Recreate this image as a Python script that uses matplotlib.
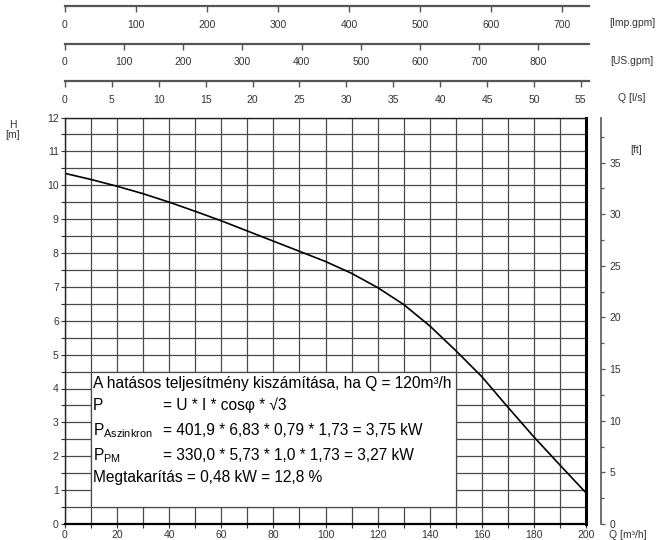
import matplotlib
matplotlib.use('Agg')
import matplotlib.pyplot as plt
from matplotlib.ticker import MultipleLocator
from matplotlib.patches import Rectangle

plt.rcParams['font.family'] = ['Liberation Sans', 'DejaVu Sans']
plt.rcParams['mathtext.fontset'] = 'custom'
plt.rcParams['mathtext.rm'] = 'Liberation Sans'

# ---- data ----
q_m3h = [0, 10, 20, 30, 40, 50, 60, 70, 80, 90, 100, 110, 120, 130, 140, 150, 160, 170, 180, 190, 200]
h_m = [10.35, 10.17, 9.97, 9.75, 9.50, 9.23, 8.95, 8.65, 8.35, 8.05, 7.75, 7.40, 6.98, 6.48, 5.85,
       5.12, 4.35, 3.45, 2.57, 1.74, 0.92]

box_lines_left = ["A hatásos teljesítmény kiszámítása, ha Q = 120m³/h",
                  "P",
                  r"P$_\mathregular{Aszinkron}$",
                  r"P$_\mathregular{PM}$",
                  "Megtakarítás = 0,48 kW = 12,8 %"]
box_lines_right = ["", "= U * I * cosφ * √3",
                   "= 401,9 * 6,83 * 0,79 * 1,73 = 3,75 kW",
                   "= 330,0 * 5,73 * 1,0 * 1,73 = 3,27 kW", ""]

# top unit scales: (label, factor per m3/h, tick step, max tick)
top_scales = [("[Imp.gpm]", 1000 / 4.54609 / 60, 100, 700),
              ("[US.gpm]", 1000 / 3.785411784 / 60, 100, 800),
              ("Q [l/s]", 1 / 3.6, 5, 55)]
M_TO_FT = 3.28084

W, H = 657, 540
fig = plt.figure(figsize=(W / 100, H / 100), dpi=100)

L, R, T, B = 65, 586, 117.5, 524
ax = fig.add_axes([L / W, 1 - B / H, (R - L) / W, (B - T) / H])
ax.set_xlim(0, 200)
ax.set_ylim(0, 12)
ax.xaxis.set_major_locator(MultipleLocator(20))
ax.xaxis.set_minor_locator(MultipleLocator(10))
ax.yaxis.set_major_locator(MultipleLocator(1))
ax.yaxis.set_minor_locator(MultipleLocator(0.5))
ax.grid(which='both', color='#4a4a4a', lw=0.9)
ax.set_axisbelow(True)
ax.tick_params(which='both', direction='out', length=3, width=0.8, color='#333',
               labelsize=7.5, labelcolor='#333', pad=1.5, top=False, right=False)
for s in ['left', 'top']:
    ax.spines[s].set_linewidth(1.0)
    ax.spines[s].set_color('#222')
ax.spines['right'].set_linewidth(2.2)
ax.spines['right'].set_color('black')
ax.spines['bottom'].set_linewidth(1.6)
ax.spines['bottom'].set_color('black')

# white info box
ax.add_patch(Rectangle((10, 0.5), 140, 4.0, facecolor='white', edgecolor='#4a4a4a',
                       lw=0.9, zorder=1.5))
ys = [4.02, 3.36, 2.63, 1.89, 1.23]
for y, tl, tr in zip(ys, box_lines_left, box_lines_right):
    ax.text(10.8, y, tl, fontsize=11.2, va='baseline', ha='left', zorder=3)
    if tr:
        ax.text(37.8, y, tr, fontsize=11.2, va='baseline', ha='left', zorder=3)

ax.plot(q_m3h, h_m, color='black', lw=1.2, zorder=2.5)

# right [ft] axis
axf = ax.twinx()
axf.set_ylim(0, 12 * M_TO_FT)
for s in ['left', 'top', 'bottom']:
    axf.spines[s].set_visible(False)
axf.spines['right'].set_position(('outward', 11))
axf.spines['right'].set_color('#555')
axf.spines['right'].set_linewidth(1.2)
axf.yaxis.set_major_locator(MultipleLocator(5))
axf.yaxis.set_minor_locator(MultipleLocator(2.5))
axf.tick_params(which='major', length=3, width=0.9, color='#555', labelsize=7.5,
                labelcolor='#333', pad=3)
axf.tick_params(which='minor', length=2, width=0.9, color='#555')

# top unit axes
top_y = [6, 43.5, 81]
R2 = 589
for ypx, (lab, fac, step, mx) in zip(top_y, top_scales):
    a = fig.add_axes([L / W, 1 - ypx / H, (R2 - L) / W, 0.0001])
    a.set_xlim(0, (R2 - L) / (R - L) * 200 * fac)
    a.set_yticks([])
    for s in ['left', 'right', 'top']:
        a.spines[s].set_visible(False)
    a.spines['bottom'].set_color('#555')
    a.spines['bottom'].set_linewidth(1.6)
    a.set_xticks(list(range(0, mx + 1, step)))
    a.tick_params(axis='x', direction='out', length=4, width=1.0, color='#555',
                  labelsize=7.5, labelcolor='#333', pad=6)
    a.patch.set_visible(False)
    fig.text(632 / W, 1 - (ypx + 17) / H, lab, fontsize=7.5, color='#333',
             ha='center', va='center')

# axis unit labels
fig.text(13 / W, 1 - 130 / H, "H\n[m]", fontsize=7.5, color='#333', ha='center',
         va='center', linespacing=1.1)
fig.text(636 / W, 1 - 150 / H, "[ft]", fontsize=7.5, color='#333', ha='center', va='center')
fig.text(628 / W, 1 - 535 / H, "Q [m³/h]", fontsize=7.5, color='#333', ha='center', va='center')

fig.savefig('out.png', dpi=100)
